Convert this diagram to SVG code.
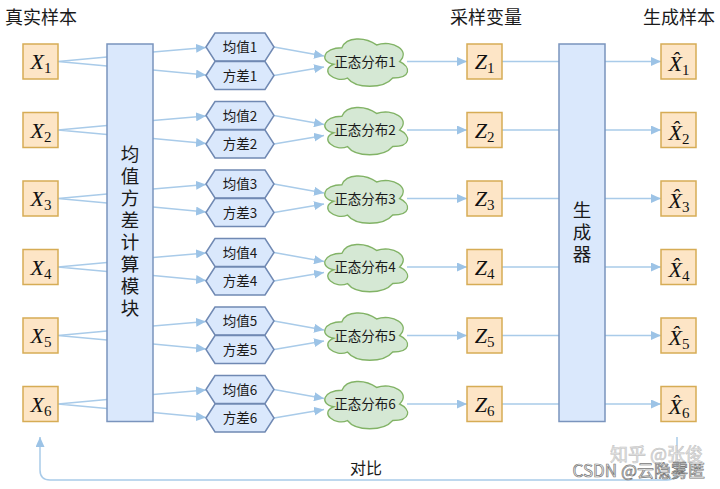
<svg xmlns="http://www.w3.org/2000/svg" width="720" height="489" viewBox="0 0 720 489">
<style>
.bx{fill:#fde5c6;stroke:#d6ac55;stroke-width:1.5}
.blk{fill:#dae8fc;stroke:#7a94bd;stroke-width:1.5}
.hx{fill:#dae8fc;stroke:#7089b3;stroke-width:1.5}
.cl{fill:#d5e8d4;stroke:#82b366;stroke-width:1.2}
.ln{fill:none;stroke:#a9cbe9;stroke-width:1.5}
.ar{marker-end:url(#ah)}
.cj{font-family:"Noto Sans CJK SC","Noto Sans",sans-serif;fill:#1a1a1a}
.t{font-size:18px}
.s{font-size:13.5px;text-anchor:middle}
.m{font-family:"Liberation Serif","Times New Roman",serif;font-size:22px;fill:#111;text-anchor:middle}
.sub{font-size:15px;font-style:normal}
</style>
<defs>
<marker id="ah" markerUnits="userSpaceOnUse" markerWidth="11" markerHeight="9" refX="10" refY="4.5" orient="auto"><path d="M0,0 L10,4.5 L0,9 z" fill="#9cc3e6"/></marker>
<polygon id="hex" points="-34,0 -25,-14 25,-14 34,0 25,14 -25,14"/>
<path id="cloud" transform="scale(1.1,1.2)" d="M-21,-11.5 C-38,-11.5 -42,0 -28.5,2.3 C-42,7.4 -27,18.4 -16,13.8 C-8.4,23 16.8,23 25.2,13.8 C42,13.8 42,4.6 31.5,0 C42,-9.2 25.2,-18.4 10.5,-13.8 C0,-20.7 -16.8,-20.7 -21,-11.5 Z"/>
</defs>

<g id="titles" class="cj t">
<text x="5" y="24">真实样本</text>
<text x="450" y="24">采样变量</text>
<text x="643" y="24">生成样本</text>
</g>

<g id="connectors">
<path class="ln" d="M58 61.5 L107 57 M58 61.5 L107 66 M58 130 L107 125.5 M58 130 L107 134.5 M58 198.5 L107 194 M58 198.5 L107 203 M58 267 L107 262.5 M58 267 L107 271.5 M58 335.5 L107 331 M58 335.5 L107 340 M58 404 L107 399.5 M58 404 L107 408.5"/>
<path class="ln ar" d="M153 52 L206 47.5"/><path class="ln ar" d="M153 70 L206 75"/>
<path class="ln ar" d="M153 120.5 L206 116"/><path class="ln ar" d="M153 138.5 L206 143.5"/>
<path class="ln ar" d="M153 189 L206 184.5"/><path class="ln ar" d="M153 207 L206 212"/>
<path class="ln ar" d="M153 257.5 L206 253"/><path class="ln ar" d="M153 275.5 L206 280.5"/>
<path class="ln ar" d="M153 326 L206 321.5"/><path class="ln ar" d="M153 344 L206 349"/>
<path class="ln ar" d="M153 394.5 L206 390"/><path class="ln ar" d="M153 412.5 L206 417.5"/>
<path class="ln ar" d="M274 47 L324 56"/><path class="ln ar" d="M274 75.5 L324 67"/>
<path class="ln ar" d="M274 115.5 L324 124.5"/><path class="ln ar" d="M274 144 L324 135.5"/>
<path class="ln ar" d="M274 184 L324 193"/><path class="ln ar" d="M274 212.5 L324 204"/>
<path class="ln ar" d="M274 252.5 L324 261.5"/><path class="ln ar" d="M274 281 L324 272.5"/>
<path class="ln ar" d="M274 321 L324 330"/><path class="ln ar" d="M274 349.5 L324 341"/>
<path class="ln ar" d="M274 389.5 L324 398.5"/><path class="ln ar" d="M274 418 L324 409.5"/>
<path class="ln ar" d="M407 61.5 H467"/><path class="ln ar" d="M407 130 H467"/><path class="ln ar" d="M407 198.5 H467"/>
<path class="ln ar" d="M407 267 H467"/><path class="ln ar" d="M407 335.5 H467"/><path class="ln ar" d="M407 404 H467"/>
<path class="ln" d="M502 61.5 H559 M502 130 H559 M502 198.5 H559 M502 267 H559 M502 335.5 H559 M502 404 H559"/>
<path class="ln ar" d="M605 61.5 H661"/><path class="ln ar" d="M605 130 H661"/><path class="ln ar" d="M605 198.5 H661"/>
<path class="ln ar" d="M605 267 H661"/><path class="ln ar" d="M605 335.5 H661"/><path class="ln ar" d="M605 404 H661"/>
<path class="ln ar" d="M677 437 V470 Q677 480 667 480 H50 Q40 480 40 470 V437"/>
<text class="cj" x="366" y="474" font-size="16" text-anchor="middle">对比</text>
</g>

<g id="x1"><rect class="bx" x="23" y="44" width="35" height="35"/><text class="m" x="41" y="69"><tspan font-style="italic">X</tspan><tspan class="sub" dy="4">1</tspan></text></g>
<g id="x2"><rect class="bx" x="23" y="112.5" width="35" height="35"/><text class="m" x="41" y="137.5"><tspan font-style="italic">X</tspan><tspan class="sub" dy="4">2</tspan></text></g>
<g id="x3"><rect class="bx" x="23" y="181" width="35" height="35"/><text class="m" x="41" y="206"><tspan font-style="italic">X</tspan><tspan class="sub" dy="4">3</tspan></text></g>
<g id="x4"><rect class="bx" x="23" y="249.5" width="35" height="35"/><text class="m" x="41" y="274.5"><tspan font-style="italic">X</tspan><tspan class="sub" dy="4">4</tspan></text></g>
<g id="x5"><rect class="bx" x="23" y="318" width="35" height="35"/><text class="m" x="41" y="343"><tspan font-style="italic">X</tspan><tspan class="sub" dy="4">5</tspan></text></g>
<g id="x6"><rect class="bx" x="23" y="386.5" width="35" height="35"/><text class="m" x="41" y="411.5"><tspan font-style="italic">X</tspan><tspan class="sub" dy="4">6</tspan></text></g>

<g id="module"><rect class="blk" x="107" y="44" width="46" height="377.5"/>
<text class="cj" font-size="18.5" text-anchor="middle"><tspan x="130" y="161">均</tspan><tspan x="130" y="183">值</tspan><tspan x="130" y="205">方</tspan><tspan x="130" y="227">差</tspan><tspan x="130" y="249">计</tspan><tspan x="130" y="271">算</tspan><tspan x="130" y="293">模</tspan><tspan x="130" y="315">块</tspan></text></g>

<g id="mean1"><use href="#hex" class="hx" x="240" y="47"/><text class="cj s" x="240" y="52">均值1</text></g>
<g id="var1"><use href="#hex" class="hx" x="240" y="75.5"/><text class="cj s" x="240" y="80.5">方差1</text></g>
<g id="mean2"><use href="#hex" class="hx" x="240" y="115.5"/><text class="cj s" x="240" y="120.5">均值2</text></g>
<g id="var2"><use href="#hex" class="hx" x="240" y="144"/><text class="cj s" x="240" y="149">方差2</text></g>
<g id="mean3"><use href="#hex" class="hx" x="240" y="184"/><text class="cj s" x="240" y="189">均值3</text></g>
<g id="var3"><use href="#hex" class="hx" x="240" y="212.5"/><text class="cj s" x="240" y="217.5">方差3</text></g>
<g id="mean4"><use href="#hex" class="hx" x="240" y="252.5"/><text class="cj s" x="240" y="257.5">均值4</text></g>
<g id="var4"><use href="#hex" class="hx" x="240" y="281"/><text class="cj s" x="240" y="286">方差4</text></g>
<g id="mean5"><use href="#hex" class="hx" x="240" y="321"/><text class="cj s" x="240" y="326">均值5</text></g>
<g id="var5"><use href="#hex" class="hx" x="240" y="349.5"/><text class="cj s" x="240" y="354.5">方差5</text></g>
<g id="mean6"><use href="#hex" class="hx" x="240" y="389.5"/><text class="cj s" x="240" y="394.5">均值6</text></g>
<g id="var6"><use href="#hex" class="hx" x="240" y="418"/><text class="cj s" x="240" y="423">方差6</text></g>

<g id="n1"><use href="#cloud" class="cl" x="365" y="61.5"/><text class="cj s" x="365" y="66.5">正态分布1</text></g>
<g id="n2"><use href="#cloud" class="cl" x="365" y="130"/><text class="cj s" x="365" y="135">正态分布2</text></g>
<g id="n3"><use href="#cloud" class="cl" x="365" y="198.5"/><text class="cj s" x="365" y="203.5">正态分布3</text></g>
<g id="n4"><use href="#cloud" class="cl" x="365" y="267"/><text class="cj s" x="365" y="272">正态分布4</text></g>
<g id="n5"><use href="#cloud" class="cl" x="365" y="335.5"/><text class="cj s" x="365" y="340.5">正态分布5</text></g>
<g id="n6"><use href="#cloud" class="cl" x="365" y="404"/><text class="cj s" x="365" y="409">正态分布6</text></g>

<g id="z1"><rect class="bx" x="467" y="44" width="35" height="35"/><text class="m" x="484.5" y="69"><tspan font-style="italic">Z</tspan><tspan class="sub" dy="4">1</tspan></text></g>
<g id="z2"><rect class="bx" x="467" y="112.5" width="35" height="35"/><text class="m" x="484.5" y="137.5"><tspan font-style="italic">Z</tspan><tspan class="sub" dy="4">2</tspan></text></g>
<g id="z3"><rect class="bx" x="467" y="181" width="35" height="35"/><text class="m" x="484.5" y="206"><tspan font-style="italic">Z</tspan><tspan class="sub" dy="4">3</tspan></text></g>
<g id="z4"><rect class="bx" x="467" y="249.5" width="35" height="35"/><text class="m" x="484.5" y="274.5"><tspan font-style="italic">Z</tspan><tspan class="sub" dy="4">4</tspan></text></g>
<g id="z5"><rect class="bx" x="467" y="318" width="35" height="35"/><text class="m" x="484.5" y="343"><tspan font-style="italic">Z</tspan><tspan class="sub" dy="4">5</tspan></text></g>
<g id="z6"><rect class="bx" x="467" y="386.5" width="35" height="35"/><text class="m" x="484.5" y="411.5"><tspan font-style="italic">Z</tspan><tspan class="sub" dy="4">6</tspan></text></g>

<g id="generator"><rect class="blk" x="559" y="44" width="46" height="377.5"/>
<text class="cj" font-size="18.5" text-anchor="middle"><tspan x="582" y="217">生</tspan><tspan x="582" y="239">成</tspan><tspan x="582" y="261">器</tspan></text></g>

<g id="xh1"><rect class="bx" x="661" y="44" width="35" height="35"/><text class="m" x="679" y="71"><tspan font-style="italic">X&#x302;</tspan><tspan class="sub" dy="4">1</tspan></text></g>
<g id="xh2"><rect class="bx" x="661" y="112.5" width="35" height="35"/><text class="m" x="679" y="139.5"><tspan font-style="italic">X&#x302;</tspan><tspan class="sub" dy="4">2</tspan></text></g>
<g id="xh3"><rect class="bx" x="661" y="181" width="35" height="35"/><text class="m" x="679" y="208"><tspan font-style="italic">X&#x302;</tspan><tspan class="sub" dy="4">3</tspan></text></g>
<g id="xh4"><rect class="bx" x="661" y="249.5" width="35" height="35"/><text class="m" x="679" y="276.5"><tspan font-style="italic">X&#x302;</tspan><tspan class="sub" dy="4">4</tspan></text></g>
<g id="xh5"><rect class="bx" x="661" y="318" width="35" height="35"/><text class="m" x="679" y="345"><tspan font-style="italic">X&#x302;</tspan><tspan class="sub" dy="4">5</tspan></text></g>
<g id="xh6"><rect class="bx" x="661" y="386.5" width="35" height="35"/><text class="m" x="679" y="413.5"><tspan font-style="italic">X&#x302;</tspan><tspan class="sub" dy="4">6</tspan></text></g>

<g id="watermark" font-family="'Noto Sans CJK SC','Noto Sans',sans-serif" text-anchor="end">
<text x="703" y="461" font-size="18" fill="#e4e4e4" stroke="#c4c4c4" stroke-width="0.6">知乎 @张俊</text>
<text x="705" y="477" font-size="17" fill="#f4f4f4" stroke="#777" stroke-width="0.7">CSDN @云隐雾匿</text>
</g>
</svg>
